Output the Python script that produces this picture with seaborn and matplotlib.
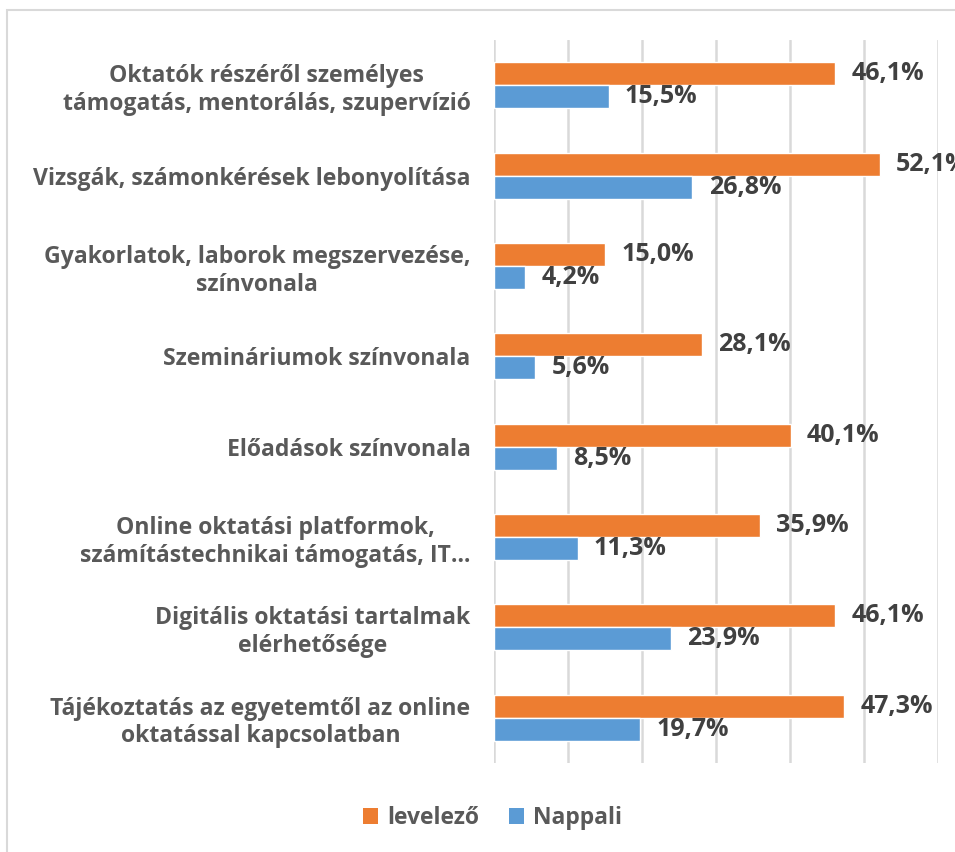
import matplotlib
matplotlib.use("Agg")
import matplotlib.pyplot as plt
import seaborn as sns
import pandas as pd
from matplotlib.patches import Rectangle, Patch

categories = [
    "Oktatók részéről személyes\ntámogatás, mentorálás, szupervízió",
    "Vizsgák, számonkérések lebonyolítása",
    "Gyakorlatok, laborok megszervezése,\nszínvonala",
    "Szemináriumok színvonala",
    "Előadások színvonala",
    "Online oktatási platformok,\nszámítástechnikai támogatás, IT…",
    "Digitális oktatási tartalmak\nelérhetősége",
    "Tájékoztatás az egyetemtől az online\noktatással kapcsolatban",
]
series_names = ["levelező", "Nappali"]
levelezo = [46.1, 52.1, 15.0, 28.1, 40.1, 35.9, 46.1, 47.3]
nappali = [15.5, 26.8, 4.2, 5.6, 8.5, 11.3, 23.9, 19.7]
colors = ["#ED7D31", "#5B9BD5"]

df = pd.DataFrame({
    "cat": categories * 2,
    "series": [series_names[0]] * len(categories) + [series_names[1]] * len(categories),
    "value": levelezo + nappali,
})

sns.set_theme(style="white")
plt.rcParams["font.family"] = ["Open Sans", "DejaVu Sans"]

FS = 16.6

fig = plt.figure(figsize=(9.55, 8.52), dpi=100)
ax = fig.add_axes([494 / 955, 1 - 763 / 852, (938 - 494) / 955, 723 / 852])

sns.barplot(data=df, y="cat", x="value", hue="series", order=categories,
            hue_order=series_names, palette=colors, orient="h", width=0.51,
            ax=ax, legend=False, saturation=1)

ax.set_xlim(0, 60)
ax.set_ylim(len(categories) - 0.5, -0.5)
ax.set_xticks(range(0, 61, 10))
ax.xaxis.grid(True, color="#D9D9D9", linewidth=1.8)
ax.set_axisbelow(True)
ax.tick_params(axis="x", length=0, labelbottom=False)
ax.tick_params(axis="y", length=0, pad=17)
for s in ax.spines.values():
    s.set_visible(False)
ax.set_xlabel("")
ax.set_ylabel("")
for t in ax.get_yticklabels():
    t.set_fontsize(FS)
    t.set_fontweight("bold")
    t.set_color("#595959")
    t.set_multialignment("center")
    t.set_linespacing(1.2)

for container in ax.containers:
    for bar in container:
        w = bar.get_width()
        ax.text(w + 2.2, bar.get_y() + bar.get_height() / 2,
                f"{w:.1f}%".replace(".", ","), va="center", ha="left",
                fontsize=18, fontweight="bold", color="#404040", clip_on=False)

handles = [Patch(facecolor=c, edgecolor="none") for c in colors]
fig.legend(handles, series_names, loc="center", bbox_to_anchor=(0.516, 1 - 818 / 852),
           ncol=2, frameon=False, handlelength=0.65, handleheight=0.65,
           columnspacing=1.3, handletextpad=0.4,
           prop={"size": 16.5, "weight": "bold"}, labelcolor="#595959")

fig.add_artist(Rectangle((7 / 955, -0.05), 1.2, 1.05 - 10 / 852, transform=fig.transFigure,
                         fill=False, edgecolor="#D9D9D9", linewidth=1.5))

fig.savefig("out.png", dpi=100, facecolor="white")
